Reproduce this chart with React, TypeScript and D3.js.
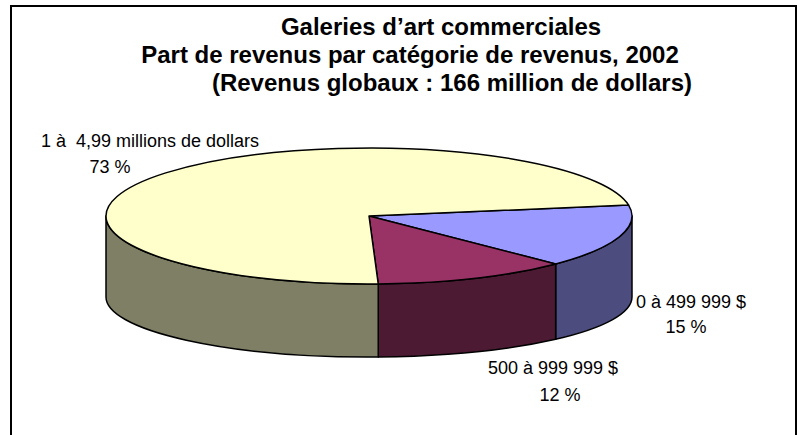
import { useEffect, useRef } from "react"
import * as d3 from "d3"

// data
const categories = ["0 à 499 999 $", "500 à 999 999 $", "1 à  4,99 millions de dollars"]
const shares = [15, 12, 73]
const percentLabels = ["15 %", "12 %", "73 %"]
const titleLines = [
  "Galeries d’art commerciales",
  "Part de revenus par catégorie de revenus, 2002",
  "(Revenus globaux : 166 million de dollars)",
]

// styling
const topColors = ["#9999ff", "#993366", "#ffffcc"]
const sideColors = ["#4c4c7f", "#4c1a33", "#7f7f66"]
const titleLayout = [
  { x: 441, y: 35 },
  { x: 410, y: 63 },
  { x: 452, y: 91 },
]
const labelLayout = [
  { x: 691, y: 308 },
  { x: 553, y: 374 },
  { x: 150, y: 147 },
]
const pctLayout = [
  { x: 686, y: 333 },
  { x: 560, y: 401 },
  { x: 110, y: 173 },
]

export default function App() {
  const svgRef = useRef<SVGSVGElement>(null)

  useEffect(() => {
    if (!svgRef.current) return
    const width = 806
    const height = 435
    const cx = 369
    const rx = 263
    const topY = 216
    const topRy = 68
    const botY = 297
    const botRy = 60

    const svg = d3.select(svgRef.current).attr("width", width).attr("height", height)
    svg.selectAll("*").remove()

    svg
      .append("rect")
      .attr("x", 11)
      .attr("y", 6)
      .attr("width", 785)
      .attr("height", 450)
      .attr("fill", "#fff")
      .attr("stroke", "#000")
      .attr("stroke-width", 2)

    const start = 1.41
    const pie = d3
      .pie<number>()
      .sort(null)
      .startAngle(start)
      .endAngle(start + 2 * Math.PI)
    const arcs = pie(shares)

    const pt = (a: number, cy: number, ry: number) => [cx + rx * Math.sin(a), cy - ry * Math.cos(a)]

    // side walls (front half only)
    const visLo = Math.PI / 2
    const visHi = (3 * Math.PI) / 2
    arcs.forEach((d, i) => {
      for (const shift of [0, 2 * Math.PI]) {
        const s = Math.max(d.startAngle, visLo + shift)
        const e = Math.min(d.endAngle, visHi + shift)
        if (e <= s) continue
        const [x0, y0] = pt(s, topY, topRy)
        const [x1, y1] = pt(e, topY, topRy)
        const [x2, y2] = pt(e, botY, botRy)
        const [x3, y3] = pt(s, botY, botRy)
        const p = `M${x0},${y0} A${rx},${topRy} 0 0 1 ${x1},${y1} L${x2},${y2} A${rx},${botRy} 0 0 0 ${x3},${y3} Z`
        svg
          .append("path")
          .attr("d", p)
          .attr("fill", sideColors[i])
          .attr("stroke", "#000")
          .attr("stroke-width", 1.5)
          .attr("stroke-linejoin", "round")
      }
    })

    // top faces
    arcs.forEach((d, i) => {
      const [x0, y0] = pt(d.startAngle, topY, topRy)
      const [x1, y1] = pt(d.endAngle, topY, topRy)
      const large = d.endAngle - d.startAngle > Math.PI ? 1 : 0
      const p = `M${cx},${topY} L${x0},${y0} A${rx},${topRy} 0 ${large} 1 ${x1},${y1} Z`
      svg
        .append("path")
        .attr("d", p)
        .attr("fill", topColors[i])
        .attr("stroke", "#000")
        .attr("stroke-width", 1.5)
        .attr("stroke-linejoin", "round")
    })

    // titles
    titleLines.forEach((t, i) => {
      svg
        .append("text")
        .attr("x", titleLayout[i].x)
        .attr("y", titleLayout[i].y)
        .attr("text-anchor", "middle")
        .attr("font-family", "'Liberation Sans', Arial, sans-serif")
        .attr("font-weight", "bold")
        .attr("font-size", "24px")
        .attr("fill", "#000")
        .text(t)
    })

    // data labels
    categories.forEach((c, i) => {
      svg
        .append("text")
        .attr("x", labelLayout[i].x)
        .attr("y", labelLayout[i].y)
        .attr("text-anchor", "middle")
        .attr("font-family", "'Liberation Sans', Arial, sans-serif")
        .attr("font-size", "18px")
        .style("white-space", "pre")
        .attr("fill", "#000")
        .text(c)
      svg
        .append("text")
        .attr("x", pctLayout[i].x)
        .attr("y", pctLayout[i].y)
        .attr("text-anchor", "middle")
        .attr("font-family", "'Liberation Sans', Arial, sans-serif")
        .attr("font-size", "18px")
        .attr("fill", "#000")
        .text(percentLabels[i])
    })
  }, [])

  return (
    <div style={{ position: "absolute", left: 0, top: 0 }}>
      <svg ref={svgRef} style={{ display: "block" }} />
    </div>
  )
}
